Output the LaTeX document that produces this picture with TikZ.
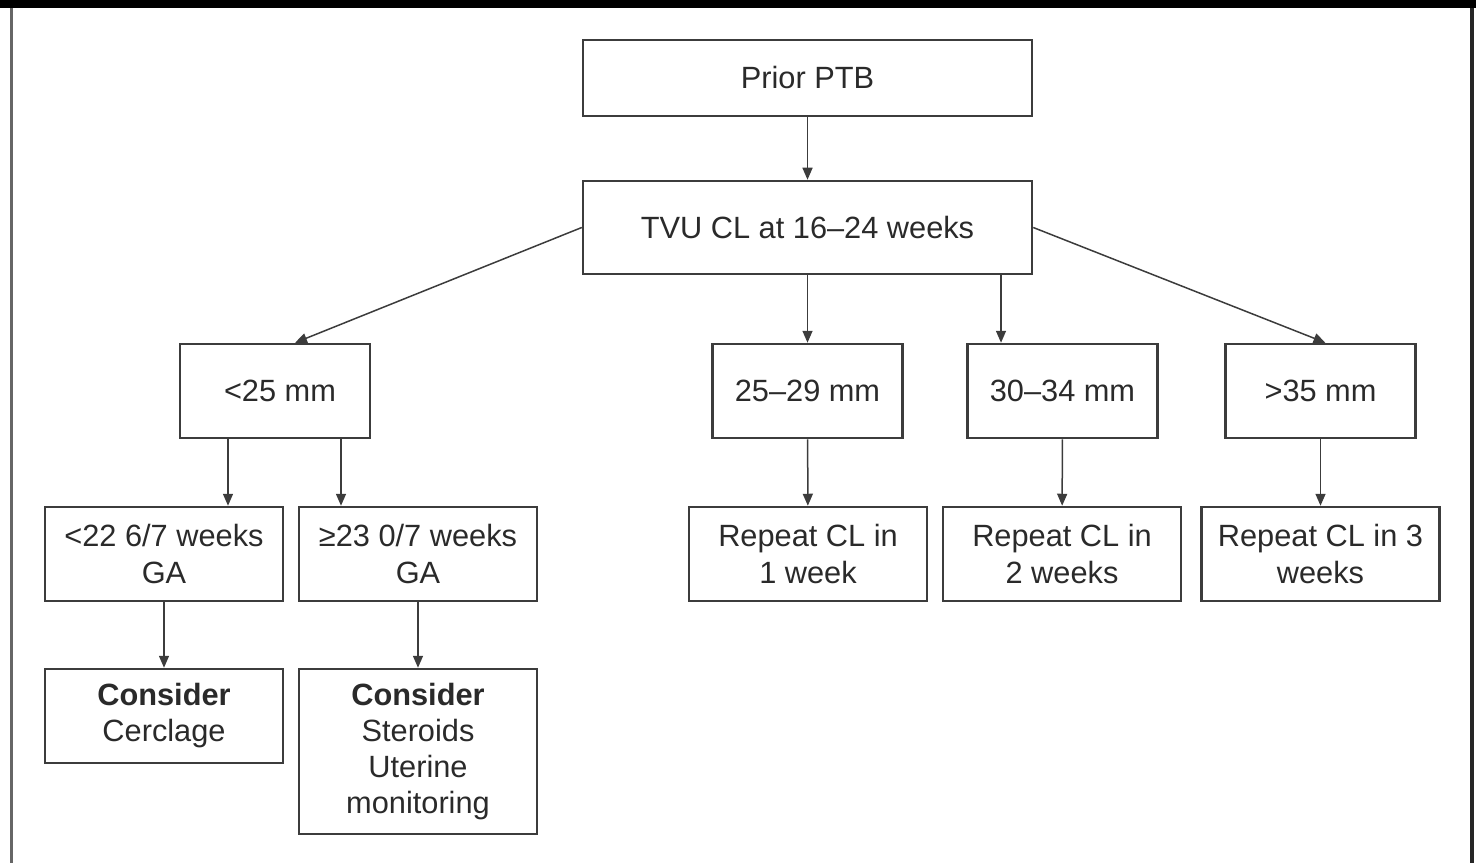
\documentclass[tikz,border=0pt]{standalone}
\usepackage{fontspec}
\setmainfont{Liberation Sans}
\usepackage{tikz}
\usetikzlibrary{arrows.meta,positioning,calc}

\definecolor{ink}{HTML}{2A2A2A}
\definecolor{edge}{HTML}{3C3C3C}

\begin{document}
\begin{tikzpicture}[
  x=0.2mm, y=-0.2mm,
  box/.style={draw=edge, line width=0.5mm, text=ink, align=center, inner sep=0pt,
    font=\fontsize{17.5}{20.5}\selectfont},
  wide/.style={box, minimum width=89.8mm},
  mid/.style={box, minimum width=38mm, minimum height=18.8mm},
  low/.style={box, minimum width=47.6mm, minimum height=18.8mm},
  arr/.style={-{Triangle[length=2.4mm,width=2mm]}, draw=edge, fill=edge, line width=0.3mm}
]
\useasboundingbox (0,0) rectangle (1476,863);
% frame
\fill[black] (0,0) rectangle (1476,8);
\draw[gray!80!black, line width=0.6mm] (11,8) -- (11,863);
\draw[black!85, line width=0.8mm] (1472,8) -- (1472,863);

\node[wide, minimum height=15.2mm] (prior) at (807.5,78) {Prior PTB};
\node[wide, minimum height=18.6mm] (tvu) at (807.5,227.5) {TVU CL at 16--24 weeks};

\node[mid] (lt25) at (275,391) {\hspace*{2mm}<25 mm};
\node[mid] (cl2529) at (807.5,391) {25--29 mm};
\node[mid] (cl3034) at (1062.5,391) {30--34 mm};
\node[mid] (gt35) at (1320.5,391) {>35 mm};

\node[low] (ga1) at (164,554) {<22 6/7 weeks\\GA};
\node[low] (ga2) at (418,554) {≥23 0/7 weeks\\GA};
\node[low] (rep1) at (808,554) {Repeat CL in\\1 week};
\node[low] (rep2) at (1062,554) {Repeat CL in\\2 weeks};
\node[low] (rep3) at (1320.5,554) {Repeat CL in 3\\weeks};

\node[low] (cerc) at (164,716) {\textbf{Consider}\\Cerclage};
\node[low, minimum height=33mm] (ster) at (418,751.5) {\textbf{Consider}\\Steroids\\Uterine\\monitoring};

\draw[arr] (prior) -- (tvu);
\draw[arr] (tvu.west) -- ([xshift=4mm]lt25.north);
\draw[arr] (tvu.east) -- ([xshift=1mm]gt35.north);
\draw[arr] (tvu) -- (cl2529);
\draw[arr] ([xshift=38.7mm]tvu.south) -- ([xshift=38.7mm]tvu.south |- cl3034.north);

\draw[arr] ([xshift=-9.4mm]lt25.south) -- ([xshift=-9.4mm]lt25.south |- ga1.north);
\draw[arr] ([xshift=13.2mm]lt25.south) -- ([xshift=13.2mm]lt25.south |- ga2.north);
\draw[arr] (cl2529) -- (rep1);
\draw[arr] (cl3034) -- (rep2);
\draw[arr] (gt35) -- (rep3);

\draw[arr] (ga1) -- (cerc);
\draw[arr] (ga2) -- (ster);
\end{tikzpicture}
\end{document}
